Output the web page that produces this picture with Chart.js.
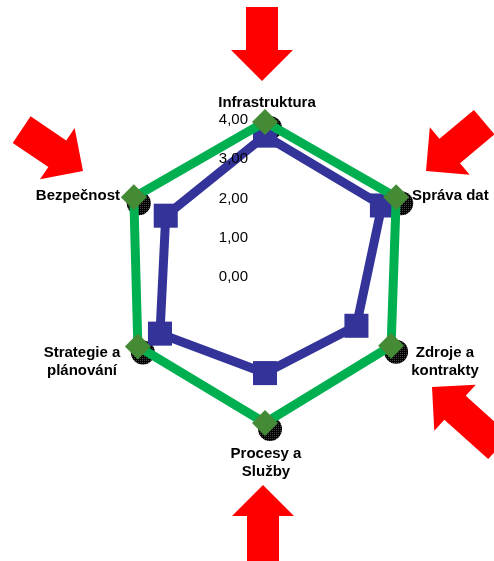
<!DOCTYPE html>
<html>
<head>
<meta charset="utf-8">
<script src="https://cdn.jsdelivr.net/npm/chart.js@4.4.0/dist/chart.umd.min.js"></script>
<style>
  html, body { margin: 0; padding: 0; background: #fff; }
  #wrap { width: 494px; height: 561px; }
</style>
</head>
<body>
<div id="wrap"><canvas id="radar"></canvas></div>
<script>
// data
const categories = [["Infrastruktura"], ["Správa dat"], ["Zdroje a", "kontrakty"], ["Procesy a", "Služby"], ["Strategie a", "plánování"], ["Bezpečnost"]];
const targetValues = [3.85, 3.86, 3.71, 3.82, 3.74, 3.86];
const actualValues = [3.5, 3.44, 2.69, 2.55, 3.09, 2.92];
const tickLabels = ["0,00", "1,00", "2,00", "3,00", "4,00"];

// label placement around the outer ring (offsets from the 4,00 position)
const labelPlace = [
  { align: "center", dx: 2, dy: -9 },
  { align: "left", dx: 11, dy: 5 },
  { align: "center", dx: 44, dy: 5 },
  { align: "center", dx: 1, dy: 28 },
  { align: "center", dx: -47, dy: 5 },
  { align: "right", dx: -9, dy: 5 }
];
// red arrows: tip offset from the chart centre and pointing direction (deg)
const arrows = [
  { dx: -3, dy: -192, angle: 90, len: 74 },
  { dx: 161, dy: -102, angle: 140, len: 76 },
  { dx: 167, dy: 114, angle: 222, len: 90 },
  { dx: -2, dy: 212, angle: 270, len: 90 },
  { dx: -182, dy: -102, angle: 34, len: 74 }
];

const FONT = '"Liberation Sans", Arial, sans-serif';

function drawArrow(ctx, x, y, angleDeg, len) {
  ctx.save();
  ctx.translate(x, y);
  ctx.rotate(angleDeg * Math.PI / 180);
  ctx.beginPath();
  ctx.moveTo(0, 0);
  ctx.lineTo(-31, -31);
  ctx.lineTo(-31, -16);
  ctx.lineTo(-len, -16);
  ctx.lineTo(-len, 16);
  ctx.lineTo(-31, 16);
  ctx.lineTo(-31, 31);
  ctx.closePath();
  ctx.fillStyle = "#ff0000";
  ctx.fill();
  ctx.restore();
}

// dotted pattern for the shadows under the diamonds
const pat = document.createElement("canvas");
pat.width = 2; pat.height = 2;
const pctx = pat.getContext("2d");
pctx.fillStyle = "#000"; pctx.fillRect(0, 0, 2, 2);
pctx.fillStyle = "#444"; pctx.fillRect(0, 0, 1, 1);

const decor = {
  id: "decor",
  beforeDatasetsDraw(chart) {
    const ctx = chart.ctx;
    const meta = chart.getDatasetMeta(0);
    ctx.save();
    ctx.fillStyle = ctx.createPattern(pat, "repeat");
    meta.data.forEach(pt => {
      ctx.beginPath();
      ctx.arc(pt.x + 5, pt.y + 6, 12, 0, Math.PI * 2);
      ctx.fill();
    });
    ctx.restore();
  },
  afterDatasetsDraw(chart) {
    const ctx = chart.ctx;
    const r = chart.scales.r;
    ctx.save();
    ctx.fillStyle = "#000";
    // value axis labels
    ctx.font = "15px " + FONT;
    ctx.textAlign = "right";
    ctx.textBaseline = "middle";
    r.ticks.forEach(t => {
      const d = r.getDistanceFromCenterForValue(t.value);
      ctx.fillText(t.label, r.xCenter - 17, r.yCenter - d + 4);
    });
    // category labels
    ctx.font = "bold 15px " + FONT;
    ctx.textBaseline = "alphabetic";
    categories.forEach((lines, i) => {
      const p = r.getPointPosition(i, r.drawingArea);
      const pl = labelPlace[i];
      ctx.textAlign = pl.align;
      lines.forEach((ln, k) => {
        ctx.fillText(ln, p.x + pl.dx, p.y + pl.dy + k * 18);
      });
    });
    ctx.restore();
  },
  afterDraw(chart) {
    const r = chart.scales.r;
    arrows.forEach(a => drawArrow(chart.ctx, r.xCenter + a.dx, r.yCenter + a.dy, a.angle, a.len));
  }
};

const ctx = document.getElementById("radar");

new Chart(ctx, {
  type: "radar",
  data: {
    labels: categories,
    datasets: [
      {
        label: "Cíl",
        data: targetValues,
        borderColor: "#00b050",
        borderWidth: 9,
        fill: false,
        pointStyle: "rectRot",
        pointRadius: 13,
        pointBackgroundColor: "#458a34",
        pointBorderColor: "#458a34",
        pointBorderWidth: 0,
        clip: false
      },
      {
        label: "Stav",
        data: actualValues,
        borderColor: "#333399",
        borderWidth: 9,
        fill: false,
        pointStyle: "rect",
        pointRadius: 17,
        pointBackgroundColor: "#333399",
        pointBorderColor: "#333399",
        pointBorderWidth: 0,
        clip: false
      }
    ]
  },
  options: {
    responsive: true,
    maintainAspectRatio: false,
    animation: false,
    events: [],
    layout: {
      padding: { left: 108, right: 72, top: 116, bottom: 131 }
    },
    elements: { line: { tension: 0 } },
    plugins: {
      legend: { display: false },
      tooltip: { enabled: false }
    },
    scales: {
      r: {
        min: 0,
        max: 4,
        ticks: {
          stepSize: 1,
          display: false,
          showLabelBackdrop: false,
          callback: (v, i) => tickLabels[i]
        },
        grid: { display: false },
        angleLines: { display: false },
        pointLabels: { display: false }
      }
    }
  },
  plugins: [decor]
});
</script>
</body>
</html>
